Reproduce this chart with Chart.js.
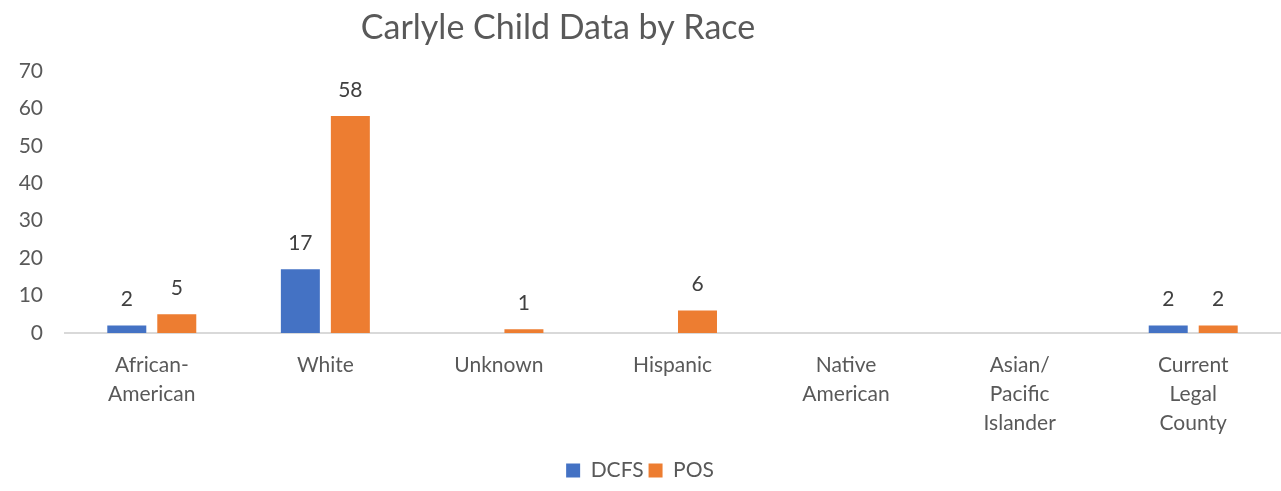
<!DOCTYPE html>
<html>
<head>
<meta charset="utf-8">
<script src="https://cdn.jsdelivr.net/npm/chart.js@4/dist/chart.umd.min.js"></script>
<style>
    html, body { margin: 0; padding: 0; background: #fff; }
    #wrap { width: 1281px; height: 491px; position: relative; }
</style>
</head>
<body>
<div id="wrap"><canvas id="raceChart"></canvas></div>
<script>
// Chart data
const categories = [
    ['African-', 'American'],
    'White',
    'Unknown',
    'Hispanic',
    ['Native', 'American'],
    ['Asian/', 'Pacific', 'Islander'],
    ['Current', 'Legal', 'County']
];
const dcfsValues = [2, 17, 0, 0, 0, 0, 2];
const posValues = [5, 58, 1, 6, 0, 0, 2];
const yTicks = { min: 0, max: 70, step: 10 };

const FONT = 'Lato, "Open Sans", sans-serif';

// Title drawn at its own spot (not centred on the canvas in the original)
const titlePlugin = {
    id: 'offsetTitle',
    afterDraw(chart) {
        const ctx = chart.ctx;
        ctx.save();
        ctx.font = '34px ' + FONT;
        ctx.fillStyle = '#595959';
        ctx.textAlign = 'center';
        ctx.textBaseline = 'middle';
        ctx.fillText('Carlyle Child Data by Race', 558, 28);
        ctx.restore();
    }
};

// Value labels above non-zero bars
const valueLabels = {
    id: 'valueLabels',
    afterDatasetsDraw(chart) {
        const ctx = chart.ctx;
        ctx.save();
        ctx.font = '21px ' + FONT;
        ctx.fillStyle = '#404040';
        ctx.textAlign = 'center';
        ctx.textBaseline = 'middle';
        chart.data.datasets.forEach((ds, i) => {
            chart.getDatasetMeta(i).data.forEach((bar, j) => {
                if (!ds.data[j]) return;
                ctx.fillText(ds.data[j], bar.x, bar.y - 26);
            });
        });
        ctx.restore();
    }
};

function initializeChart() {
    const ctx = document.getElementById('raceChart').getContext('2d');
    new Chart(ctx, {
        type: 'bar',
        data: {
            labels: categories,
            datasets: [{
                label: 'DCFS',
                data: dcfsValues,
                backgroundColor: '#4472C4'
            }, {
                label: 'POS',
                data: posValues,
                backgroundColor: '#ED7D31'
            }]
        },
        options: {
            responsive: true,
            maintainAspectRatio: false,
            animation: false,
            categoryPercentage: 0.576,
            barPercentage: 0.78,
            layout: {
                padding: { top: 71, right: 1, left: 0, bottom: 0 }
            },
            plugins: {
                title: { display: false },
                tooltip: { enabled: false },
                legend: {
                    position: 'bottom',
                    labels: {
                        boxWidth: 14,
                        boxHeight: 14,
                        padding: 5,
                        color: '#595959',
                        font: { family: FONT, size: 21 }
                    }
                }
            },
            scales: {
                y: {
                    min: yTicks.min,
                    max: yTicks.max,
                    ticks: {
                        stepSize: yTicks.step,
                        color: '#595959',
                        padding: 14,
                        font: { family: FONT, size: 21 }
                    },
                    grid: { display: false },
                    border: { display: false },
                    afterFit(scale) { scale.width = 65; }
                },
                x: {
                    ticks: {
                        color: '#595959',
                        padding: 10,
                        maxRotation: 0,
                        font: { family: FONT, size: 21, lineHeight: 1.38 }
                    },
                    grid: { display: false },
                    border: { color: '#D9D9D9', width: 2 },
                    afterFit(scale) { scale.height = 122; }
                }
            }
        },
        plugins: [titlePlugin, valueLabels]
    });
}

document.addEventListener('DOMContentLoaded', initializeChart);
</script>
</body>
</html>
